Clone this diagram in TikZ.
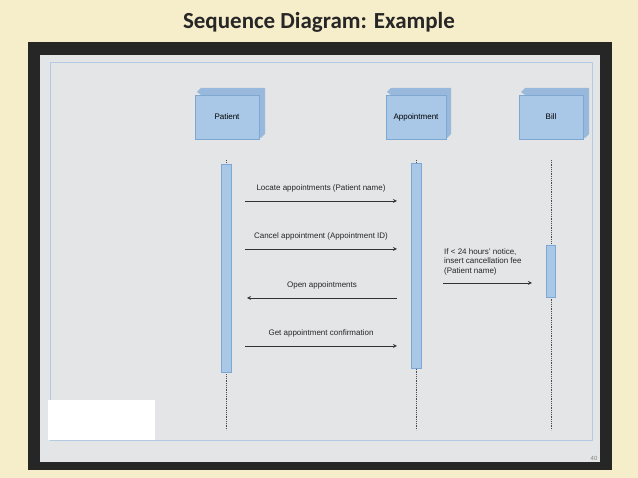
\documentclass[tikz,border=0pt]{standalone}
\usepackage{fontspec}
\setmainfont{Liberation Sans}
\newfontfamily\titlefont{Carlito}
\usetikzlibrary{positioning}
\definecolor{slidebg}{HTML}{F6EDCB}
\definecolor{paper}{HTML}{E4E5E6}
\definecolor{boxblue}{HTML}{A9C8E8}
\definecolor{boxside}{HTML}{7FA7D3}
\tikzset{
  objbox/.style={draw=boxside, fill=boxblue, minimum width=64pt, minimum height=44pt, font=\fontsize{8}{9}\selectfont},
  actbar/.style={draw=boxside, fill=boxblue},
  lifeline/.style={densely dotted, thick, black!70},
  msg/.style={->, >=stealth, thick, black!80},
  msglabel/.style={font=\fontsize{8}{9.5}\selectfont, black!85}
}
\begin{document}
\begin{tikzpicture}[x=1pt, y=-1pt]
\useasboundingbox (0,0) rectangle (638,478);
\fill[slidebg] (0,0) rectangle (638,478);
\node[font=\titlefont\bfseries\fontsize{23}{26}\selectfont, text=black!85] (title) at (319,22) {Sequence Diagram: Example};
\fill[black!85] (28,42) rectangle (612,470);
\fill[paper] (40,55) rectangle (600,462);
\draw[boxside!60] (50,62) rectangle (592,440);
\fill[white] (48,400) rectangle (155,440);
\node[font=\fontsize{6}{7}\selectfont, text=black!50] (pageno) at (594,458) {40};

% objects
\begin{scope}
  \fill[boxside!80] (197,92) -- (201,88) -- (265,88) -- (265,134) -- (261,138) -- cycle;
  \node[objbox] (patient) at (227,117) {Patient};
  \fill[boxside!80] (387,92) -- (391,88) -- (451,88) -- (451,134) -- (447,138) -- cycle;
  \node[objbox, minimum width=60pt] (appt) at (416,117) {Appointment};
  \fill[boxside!80] (521,92) -- (525,88) -- (589,88) -- (589,134) -- (585,138) -- cycle;
  \node[objbox] (bill) at (551,117) {Bill};
\end{scope}

% lifelines
\coordinate (pend) at (226,430);
\coordinate (aend) at (416,430);
\coordinate (bend) at (551,430);
\draw[lifeline] (226,160) -- (pend);
\draw[lifeline] (416,160) -- (aend);
\draw[lifeline] (551,160) -- (bend);

% activation bars
\node[actbar, minimum width=10pt, minimum height=208pt, inner sep=0pt] (pact) at (226,268) {};
\node[actbar, minimum width=10pt, minimum height=205pt, inner sep=0pt] (aact) at (416,266) {};
\node[actbar, minimum width=9pt, minimum height=52pt, inner sep=0pt] (bact) at (551,271) {};

% messages
\coordinate (m1s) at (245,201); \coordinate (m1e) at (397,201);
\coordinate (m2s) at (245,249); \coordinate (m2e) at (397,249);
\coordinate (m3s) at (397,298); \coordinate (m3e) at (247,298);
\coordinate (m4s) at (245,346); \coordinate (m4e) at (397,346);
\coordinate (m5s) at (443,283); \coordinate (m5e) at (532,283);
\draw[msg] (m1s) -- node[msglabel, above=5pt] (l1) {Locate appointments (Patient name)} (m1e);
\draw[msg] (m2s) -- node[msglabel, above=5pt] (l2) {Cancel appointment (Appointment ID)} (m2e);
\draw[msg] (m3s) -- node[msglabel, above=5pt] (l3) {Open appointments} (m3e);
\draw[msg] (m4s) -- node[msglabel, above=5pt] (l4) {Get appointment confirmation} (m4e);
\draw[msg] (m5s) -- (m5e);
\node[msglabel, align=left, anchor=south west, inner sep=1pt] (l5) at (443,276) {If < 24 hours' notice,\\insert cancellation fee\\(Patient name)};
\end{tikzpicture}
\end{document}
